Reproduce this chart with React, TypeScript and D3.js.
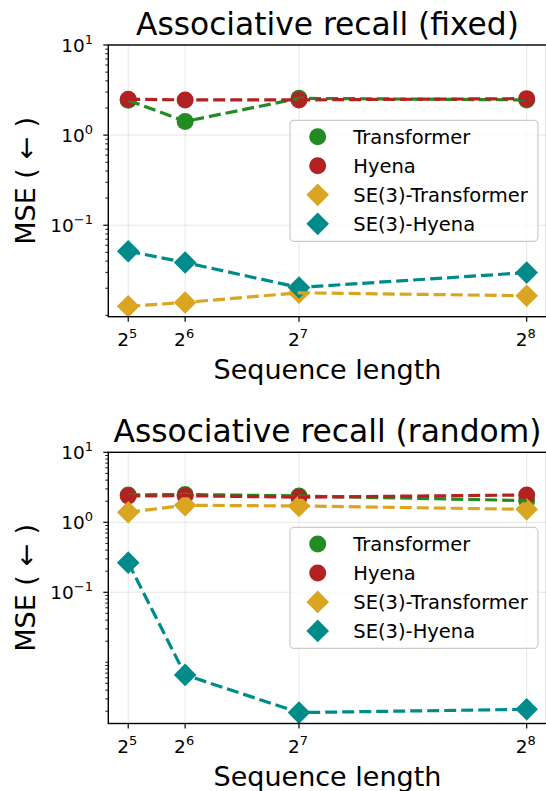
import React from "react";
import * as d3 from "d3";

const seqLens = [32, 64, 128, 256];
const seqExponents = [5, 6, 7, 8];
const seriesNames = ["Transformer", "Hyena", "SE(3)-Transformer", "SE(3)-Hyena"];
const seriesColors = ["#228B22", "#B22222", "#DAA520", "#008B8B"];
const seriesShapes = ["circle", "circle", "diamond", "diamond"];

const transformerFixed = [2.44, 1.42, 2.56, 2.46];
const hyenaFixed = [2.5, 2.46, 2.46, 2.54];
const se3TransformerFixed = [0.0126, 0.0139, 0.0178, 0.0165];
const se3HyenaFixed = [0.0515, 0.0386, 0.0204, 0.0298];

const transformerRandom = [2.46, 2.5, 2.38, 2.04];
const hyenaRandom = [2.38, 2.4, 2.28, 2.46];
const se3TransformerRandom = [1.39, 1.75, 1.71, 1.53];
const se3HyenaRandom = [0.265, 0.0066, 0.00191, 0.00213];

const yTickExponents = [-1, 0, 1];

const FONT = "'DejaVu Sans', sans-serif";

type PanelProps = {
  title: string;
  top: number;
  bottom: number;
  series: number[][];
};

const X0 = 108.3;
const X1 = 546.6;

function Panel({ title, top, bottom, series }: PanelProps) {
  const all = series.flat();
  const lmin = Math.log10(d3.min(all) as number);
  const lmax = Math.log10(d3.max(all) as number);
  const ymin = Math.pow(10, lmin - 0.05 * (lmax - lmin));
  const ymax = 10;
  const xmin = 32 - 0.05 * (256 - 32);
  const xmax = 256 + 0.05 * (256 - 32);
  const x = d3.scaleLinear().domain([xmin, xmax]).range([X0, X1]);
  const y = d3.scaleLog().domain([ymin, ymax]).range([bottom, top]);

  const minorTicks: number[] = [];
  for (let e = -4; e <= 1; e++) {
    for (let k = 1; k <= 9; k++) {
      const v = k * Math.pow(10, e);
      if (v >= ymin && v <= ymax && !(k === 1 && yTickExponents.includes(e))) minorTicks.push(v);
    }
  }
  const line = d3
    .line<number>()
    .x((_, i) => x(seqLens[i]))
    .y((d) => y(d));
  const cy = (top + bottom) / 2;
  const cx = (X0 + X1) / 2;
  const legTop = cy - 60.5;
  const legLeft = 290;
  const legRight = X1 - 8.7;

  const marker = (shape: string, px: number, py: number, color: string, key: string) =>
    shape === "circle" ? (
      <circle key={key} cx={px} cy={py} r={8.5} fill={color} />
    ) : (
      <path
        key={key}
        d={`M${px},${py - 11.3}L${px + 11.3},${py}L${px},${py + 11.3}L${px - 11.3},${py}Z`}
        fill={color}
      />
    );

  return (
    <g>
      {seqLens.map((s) => (
        <line key={"gx" + s} x1={x(s)} x2={x(s)} y1={top} y2={bottom} stroke="#b0b0b0" strokeOpacity={0.3} strokeWidth={1} />
      ))}
      {yTickExponents.map((e) => (
        <line key={"gy" + e} x1={X0} x2={X1} y1={y(Math.pow(10, e))} y2={y(Math.pow(10, e))} stroke="#b0b0b0" strokeOpacity={0.3} strokeWidth={1} />
      ))}
      {series.map((vals, si) =>
        vals.map((v, i) => marker(seriesShapes[si], x(seqLens[i]), y(v), seriesColors[si], `m${si}-${i}`))
      )}
      {series.map((vals, si) => (
        <path
          key={"l" + si}
          d={line(vals) as string}
          fill="none"
          stroke={seriesColors[si]}
          strokeWidth={3.2}
          strokeDasharray="12,5"
        />
      ))}
      <rect x={X0} y={top} width={X1 - X0} height={bottom - top} fill="none" stroke="#000" strokeWidth={1.4} />
      {yTickExponents.map((e) => {
        const py = y(Math.pow(10, e));
        return (
          <g key={"yt" + e}>
            <line x1={X0 - 5} x2={X0} y1={py} y2={py} stroke="#000" strokeWidth={1.2} />
            <text x={93} y={py + 6.8} textAnchor="end" fontFamily={FONT} fontSize={18.5} fill="#000">
              10
              <tspan dy={-8} fontSize={13}>
                {e < 0 ? "\u2212" + Math.abs(e) : String(e)}
              </tspan>
            </text>
          </g>
        );
      })}
      {minorTicks.map((v, i) => (
        <line key={"mt" + i} x1={X0 - 3} x2={X0} y1={y(v)} y2={y(v)} stroke="#000" strokeWidth={0.9} />
      ))}
      {seqLens.map((s, i) => (
        <g key={"xt" + s}>
          <line x1={x(s)} x2={x(s)} y1={bottom} y2={bottom + 5} stroke="#000" strokeWidth={1.2} />
          <text x={x(s) - 1} y={bottom + 29.3} textAnchor="middle" fontFamily={FONT} fontSize={18.5} fill="#000">
            2
            <tspan dy={-8} fontSize={13}>
              {String(seqExponents[i])}
            </tspan>
          </text>
        </g>
      ))}
      <text x={cx} y={bottom + 62.5} textAnchor="middle" fontFamily={FONT} fontSize={27} fill="#000">
        Sequence length
      </text>
      <text
        transform={`translate(34.8,${cy}) rotate(-90)`}
        textAnchor="middle"
        fontFamily={FONT}
        fontSize={27}
        fill="#000"
      >
        MSE (<tspan dx={9}>←</tspan><tspan dx={9}>)</tspan>
      </text>
      <text x={cx} y={top - 10} textAnchor="middle" fontFamily={FONT} fontSize={31.3} fill="#000">
        {title}
      </text>
      <rect
        x={legLeft}
        y={legTop}
        width={legRight - legLeft}
        height={121}
        rx={4}
        fill="#fff"
        fillOpacity={0.8}
        stroke="#cccccc"
        strokeWidth={1.2}
      />
      {seriesNames.map((n, i) => {
        const ry = legTop + 16.5 + i * 29;
        return (
          <g key={"lg" + i}>
            {marker(seriesShapes[i], 317.7, ry, seriesColors[i], "lm" + i)}
            <text x={353.3} y={ry + 7} fontFamily={FONT} fontSize={19.5} fill="#000">
              {n}
            </text>
          </g>
        );
      })}
    </g>
  );
}

export default function App() {
  return (
    <svg
      width={546}
      height={791}
      viewBox="0 0 546 791"
      style={{ position: "absolute", left: 0, top: 0, background: "#fff" }}
    >
      <rect width={546} height={791} fill="#fff" />
      <Panel
        title="Associative recall (fixed)"
        top={45}
        bottom={316.7}
        series={[transformerFixed, hyenaFixed, se3TransformerFixed, se3HyenaFixed]}
      />
      <Panel
        title="Associative recall (random)"
        top={452.3}
        bottom={723.5}
        series={[transformerRandom, hyenaRandom, se3TransformerRandom, se3HyenaRandom]}
      />
    </svg>
  );
}
